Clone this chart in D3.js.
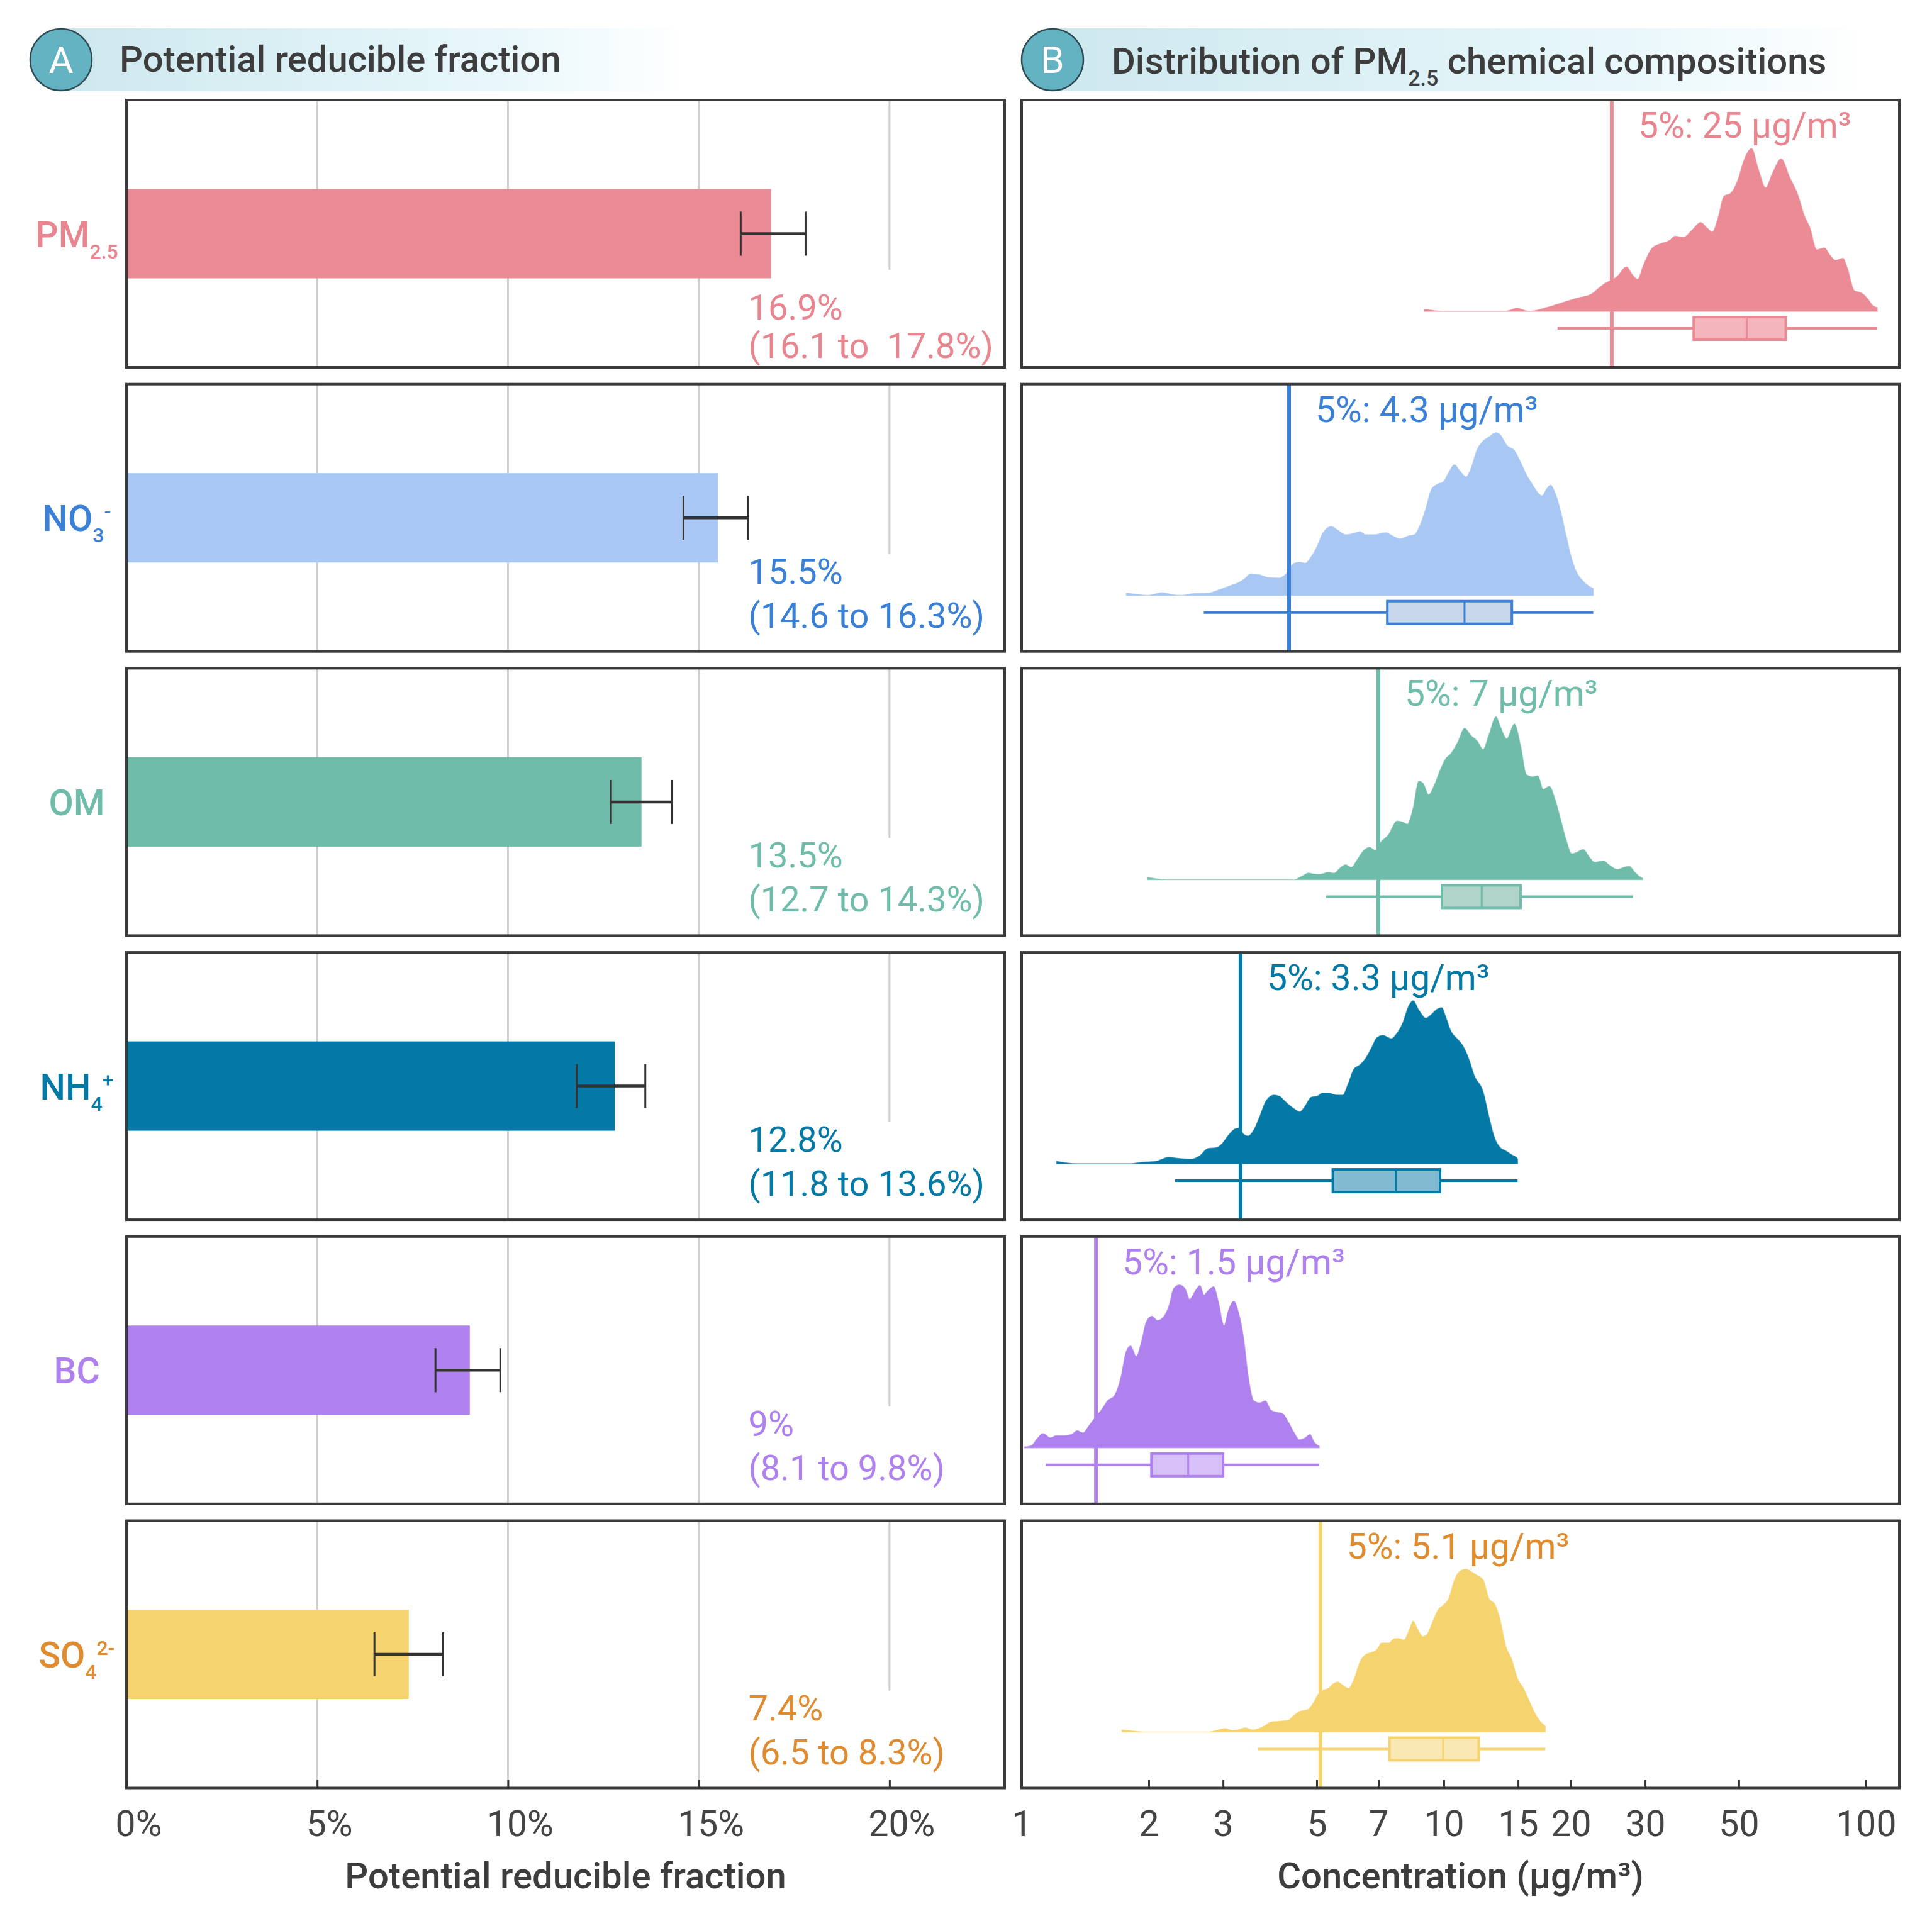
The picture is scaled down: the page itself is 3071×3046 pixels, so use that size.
<!DOCTYPE html>
<html>
<head>
<meta charset="utf-8">
<script src="https://cdn.jsdelivr.net/npm/d3@7"></script>
<style>
  body { margin: 0; background: #fff; }
  svg { display: block; }
  text { font-family: Roboto, "Noto Sans", sans-serif; }
</style>
</head>
<body>
<svg id="chart"></svg>
<script>
// ---- data ----
const speciesMain = ["PM", "NO", "OM", "NH", "BC", "SO"];
const speciesSub = ["2.5", "3", "", "4", "", "4"];
const speciesSup = ["", "-", "", "+", "", "2-"];

// panel A: potential reducible fraction (%)
const fraction = [16.9, 15.5, 13.5, 12.8, 9, 7.4];
const fractionLo = [16.1, 14.6, 12.7, 11.8, 8.1, 6.5];
const fractionHi = [17.8, 16.3, 14.3, 13.6, 9.8, 8.3];
const fractionText = ["16.9%", "15.5%", "13.5%", "12.8%", "9%", "7.4%"];
const ciText = ["(16.1 to  17.8%)", "(14.6 to 16.3%)", "(12.7 to 14.3%)", "(11.8 to 13.6%)", "(8.1 to 9.8%)", "(6.5 to 8.3%)"];

// panel B: 5th percentile and box stats (ug/m3)
const p5 = [25, 4.3, 7, 3.3, 1.5, 5.1];
const whiskLo = [18.6, 2.7, 5.26, 2.31, 1.14, 3.63];
const boxQ1 = [39.1, 7.35, 9.9, 5.46, 2.03, 7.44];
const boxMed = [52.2, 11.2, 12.3, 7.7, 2.48, 9.96];
const boxQ3 = [64.6, 14.5, 15.2, 9.8, 3.0, 12.1];
const whiskHi = [106.4, 22.6, 28.1, 14.96, 5.07, 17.4];

// densities: [concentration, scaled density]
const denPM = [[9.0,0.014],[10.0,0],[14.0,0],[14.9,0.019],[15.9,0],[17.5,0.023],[19.2,0.055],[20.7,0.081],[22.4,0.107],[23.2,0.139],[24.3,0.178],[25.0,0.191],[25.8,0.216],[27.1,0.274],[27.9,0.229],[28.8,0.197],[29.7,0.281],[31.2,0.39],[32.7,0.416],[34.3,0.436],[35.3,0.461],[37.0,0.455],[38.8,0.5],[40.6,0.545],[42.0,0.513],[43.3,0.487],[44.7,0.577],[46.1,0.706],[47.9,0.726],[49.8,0.809],[51.4,0.925],[53.6,1],[55.6,0.874],[57.9,0.758],[60.1,0.848],[63.0,0.936],[66.0,0.822],[69.2,0.706],[71.4,0.59],[73.7,0.513],[76.5,0.378],[79.7,0.39],[82.2,0.345],[84.8,0.313],[88.3,0.326],[90.3,0.268],[94.0,0.126],[97.6,0.113],[100.7,0.081],[103.8,0.036],[106.4,0.023]];
const denNO3 = [[1.77,0.014],[1.87,0.008],[1.99,0.001],[2.15,0.017],[2.29,0.004],[2.40,0.001],[2.56,0.012],[2.76,0.014],[2.94,0.036],[3.13,0.062],[3.28,0.082],[3.39,0.107],[3.49,0.133],[3.66,0.127],[3.84,0.11],[4.08,0.107],[4.21,0.127],[4.42,0.198],[4.56,0.204],[4.70,0.198],[4.85,0.237],[5.01,0.301],[5.16,0.379],[5.41,0.424],[5.58,0.405],[5.85,0.373],[6.08,0.379],[6.33,0.392],[6.53,0.373],[6.84,0.373],[7.29,0.386],[7.56,0.366],[7.88,0.347],[8.26,0.366],[8.52,0.373],[8.79,0.431],[9.07,0.534],[9.35,0.651],[9.65,0.683],[9.96,0.696],[10.27,0.754],[10.6,0.803],[10.9,0.767],[11.3,0.728],[11.6,0.78],[12.0,0.897],[12.4,0.948],[12.8,0.974],[13.3,1],[13.6,0.987],[14.1,0.922],[14.7,0.89],[15.2,0.819],[15.7,0.741],[16.2,0.683],[16.7,0.631],[17.1,0.612],[17.5,0.651],[17.9,0.677],[18.3,0.638],[18.9,0.521],[19.5,0.366],[20.1,0.224],[20.8,0.127],[21.4,0.088],[22.1,0.056],[22.6,0.043]];
const denOM = [[1.99,0.013],[2.19,0],[4.42,0],[4.63,0.023],[4.78,0.04],[4.93,0.034],[5.08,0.032],[5.33,0.045],[5.50,0.039],[5.67,0.069],[5.85,0.091],[6.04,0.075],[6.23,0.12],[6.43,0.172],[6.67,0.198],[6.88,0.179],[7.06,0.224],[7.40,0.276],[7.75,0.36],[8.00,0.353],[8.20,0.34],[8.46,0.437],[8.73,0.605],[8.93,0.592],[9.21,0.521],[9.50,0.58],[9.80,0.67],[10.1,0.741],[10.4,0.774],[10.8,0.845],[11.2,0.929],[11.6,0.884],[12.0,0.851],[12.4,0.799],[12.8,0.89],[13.3,1],[13.6,0.942],[14.1,0.864],[14.7,0.955],[15.2,0.825],[15.7,0.644],[16.2,0.631],[16.7,0.638],[17.2,0.554],[17.8,0.573],[18.3,0.502],[18.9,0.373],[19.5,0.243],[20.1,0.159],[20.6,0.166],[21.4,0.185],[22.1,0.14],[22.8,0.107],[23.9,0.114],[24.7,0.088],[25.8,0.062],[26.7,0.075],[27.5,0.082],[28.4,0.043],[29.3,0.013],[29.6,0.008]];
const denNH4 = [[1.21,0.015],[1.35,0],[1.81,0],[1.93,0.009],[2.08,0.015],[2.23,0.039],[2.36,0.032],[2.52,0.028],[2.64,0.048],[2.76,0.093],[2.90,0.099],[2.99,0.125],[3.08,0.17],[3.21,0.215],[3.28,0.219],[3.35,0.183],[3.44,0.17],[3.55,0.208],[3.66,0.286],[3.80,0.389],[3.96,0.421],[4.08,0.414],[4.21,0.382],[4.42,0.337],[4.56,0.318],[4.70,0.356],[4.85,0.408],[5.01,0.414],[5.16,0.434],[5.33,0.434],[5.58,0.421],[5.76,0.421],[5.94,0.492],[6.13,0.582],[6.33,0.607],[6.53,0.646],[6.74,0.71],[6.95,0.775],[7.17,0.788],[7.51,0.768],[7.75,0.801],[8.00,0.865],[8.26,0.968],[8.46,1],[8.73,0.942],[9.07,0.893],[9.35,0.916],[9.65,0.949],[9.90,0.958],[10.1,0.903],[10.4,0.813],[10.8,0.762],[11.1,0.723],[11.5,0.633],[11.8,0.543],[12.4,0.44],[12.8,0.286],[13.2,0.157],[13.6,0.099],[14.0,0.08],[14.5,0.054],[14.9,0.035],[14.96,0.028]];
const denBC = [[1.016,0.006],[1.054,0.013],[1.088,0.056],[1.123,0.088],[1.169,0.062],[1.206,0.075],[1.264,0.075],[1.313,0.082],[1.354,0.105],[1.397,0.092],[1.442,0.134],[1.492,0.185],[1.549,0.237],[1.598,0.289],[1.66,0.322],[1.718,0.432],[1.767,0.588],[1.811,0.626],[1.869,0.562],[1.928,0.665],[1.971,0.769],[2.033,0.808],[2.098,0.782],[2.165,0.802],[2.234,0.873],[2.291,0.977],[2.363,1],[2.438,0.977],[2.5,0.912],[2.579,0.964],[2.645,0.996],[2.703,0.938],[2.764,0.964],[2.85,0.99],[2.923,0.899],[3.016,0.75],[3.092,0.847],[3.18,0.901],[3.261,0.834],[3.354,0.678],[3.439,0.445],[3.548,0.289],[3.661,0.276],[3.777,0.289],[3.897,0.231],[4.021,0.218],[4.148,0.211],[4.28,0.16],[4.416,0.095],[4.556,0.049],[4.701,0.062],[4.82,0.082],[4.927,0.036],[5.07,0.01]];
const denSO4 = [[1.729,0.014],[1.84,0.006],[1.959,0],[2.764,0],[2.896,0.01],[3.034,0.021],[3.15,0.01],[3.251,0.013],[3.386,0.026],[3.526,0.013],[3.661,0.023],[3.777,0.04],[3.897,0.062],[4.084,0.066],[4.28,0.071],[4.416,0.101],[4.556,0.126],[4.775,0.139],[4.927,0.185],[5.036,0.23],[5.164,0.255],[5.328,0.268],[5.463,0.294],[5.602,0.307],[5.761,0.288],[5.944,0.268],[6.133,0.326],[6.328,0.43],[6.529,0.475],[6.736,0.488],[6.95,0.507],[7.126,0.546],[7.398,0.546],[7.633,0.572],[7.802,0.574],[8.05,0.565],[8.31,0.636],[8.46,0.681],[8.65,0.636],[8.93,0.585],[9.12,0.597],[9.41,0.675],[9.71,0.752],[10.0,0.781],[10.27,0.817],[10.6,0.933],[10.9,0.985],[11.3,1],[11.6,0.985],[12.0,0.961],[12.4,0.933],[12.8,0.817],[13.2,0.785],[13.6,0.688],[14.0,0.533],[14.5,0.443],[14.96,0.326],[15.4,0.275],[15.9,0.197],[16.4,0.12],[16.9,0.068],[17.4,0.036]];
const densities = [denPM, denNO3, denOM, denNH4, denBC, denSO4];

const fractionTicks = [0, 5, 10, 15, 20];
const concTicks = [1, 2, 3, 5, 7, 10, 15, 20, 30, 50, 100];

// colours
const fillColor = ["#ea8b96", "#a8c7f3", "#70bcaa", "#0479a6", "#ae81ee", "#f5d36f"];
const textColor = ["#e8858f", "#3a80d6", "#70bcaa", "#0479a6", "#ae81ee", "#df8b2f"];
const lineColor = ["#ea8b96", "#3a80d6", "#70bcaa", "#0479a6", "#ae81ee", "#f5d36f"];
const boxFill = ["#f4b5bd", "#c8d7ea", "#b1d4ca", "#82bad1", "#d7c0f7", "#fae8b4"];

// ---- layout ----
const width = 3071, height = 3046;
const leftX = [201, 1597], rightX = [1624, 3019];
const panelTop0 = 159, panelStep = 451.7, panelH = 425;
const ink = "#3d3d3d";

const svg = d3.select("#chart").attr("width", width).attr("height", height);

const xBar = d3.scaleLinear().domain([0, 23.02]).range(leftX);
const xConc = d3.scaleLog().domain([1, 120]).range(rightX);

const defs = svg.append("defs");
const grad = defs.append("linearGradient").attr("id", "band").attr("x1", "0%").attr("x2", "100%");
grad.append("stop").attr("offset", "0%").attr("stop-color", "#cde8ee");
grad.append("stop").attr("offset", "70%").attr("stop-color", "#e8f7fb");
grad.append("stop").attr("offset", "100%").attr("stop-color", "#ffffff");

// header bands
function header(x0, x1, letter, cx) {
    svg.append("rect").attr("x", x0).attr("y", 45).attr("width", x1 - x0).attr("height", 100)
        .attr("fill", "url(#band)");
    svg.append("circle").attr("cx", cx).attr("cy", 95).attr("r", 49)
        .attr("fill", "#63b3c3").attr("stroke", "#2f4a50").attr("stroke-width", 2.5);
    svg.append("text").attr("x", cx).attr("y", 116).attr("text-anchor", "middle")
        .attr("fill", "#fff").style("font-size", "60px").text(letter);
}
header(97, 1090, "A", 97);
header(1673, 2965, "B", 1673);

svg.append("text").attr("x", 190).attr("y", 114).attr("fill", ink)
    .style("font-size", "58px").style("font-weight", 500)
    .text("Potential reducible fraction");

const titleB = svg.append("text").attr("x", 1767).attr("y", 117).attr("fill", ink)
    .style("font-size", "58px").style("font-weight", 500);
titleB.append("tspan").text("Distribution of PM");
titleB.append("tspan").attr("dy", 19).style("font-size", "34px").text("2.5");
titleB.append("tspan").attr("dy", -19).text(" chemical compositions");

// ---- panels ----
const area = d3.area().curve(d3.curveMonotoneX);

fraction.forEach(function(v, i) {
    const top = panelTop0 + i * panelStep;
    const mid = top + panelH / 2;

    // left: gridlines
    const gA = svg.append("g");
    gA.selectAll("line.grid")
        .data(fractionTicks.filter(t => t > 0))
        .enter().append("line")
        .attr("x1", d => xBar(d)).attr("x2", d => xBar(d))
        .attr("y1", top).attr("y2", top + panelH)
        .attr("stroke", "#cfcfcf").attr("stroke-width", 3);

    // white backing of the value label (hides gridlines only)
    gA.append("rect")
        .attr("x", xBar(16.3) - 22).attr("y", top + 270)
        .attr("width", leftX[1] - xBar(16.3) + 22).attr("height", panelH - 270)
        .attr("fill", "#fff");

    // bar
    gA.append("rect")
        .attr("x", xBar(0)).attr("y", mid - 71)
        .attr("width", xBar(v) - xBar(0)).attr("height", 142)
        .attr("fill", fillColor[i]);

    // error bar
    gA.append("line")
        .attr("x1", xBar(fractionLo[i])).attr("x2", xBar(fractionHi[i]))
        .attr("y1", mid).attr("y2", mid)
        .attr("stroke", "#333").attr("stroke-width", 4.5);
    gA.selectAll("line.cap")
        .data([fractionLo[i], fractionHi[i]])
        .enter().append("line")
        .attr("x1", d => xBar(d)).attr("x2", d => xBar(d))
        .attr("y1", mid - 35).attr("y2", mid + 35)
        .attr("stroke", "#333").attr("stroke-width", 3);

    // value label
    const rows = i === 0 ? [349, 410] : [317, 387];
    const lab = gA.append("text").attr("fill", textColor[i])
        .style("font-size", "56px").style("white-space", "pre");
    lab.append("tspan").attr("x", xBar(16.3)).attr("y", top + rows[0]).text(fractionText[i]);
    lab.append("tspan").attr("x", xBar(16.3)).attr("y", top + rows[1]).text(ciText[i]);

    // species label
    const sp = svg.append("text").attr("x", 122).attr("y", mid + 21)
        .attr("text-anchor", "middle").attr("fill", textColor[i])
        .style("font-size", "57px").style("font-weight", 500);
    sp.append("tspan").text(speciesMain[i]);
    if (speciesSub[i]) sp.append("tspan").attr("dy", 18).style("font-size", "32px").text(speciesSub[i]);
    if (speciesSup[i]) sp.append("tspan").attr("dy", -38).style("font-size", "32px").text(speciesSup[i]);

    // right: density
    const gB = svg.append("g");
    const yD = d3.scaleLinear().domain([0, 1]).range([top + 336, top + 77]);
    area.x(d => xConc(d[0])).y0(top + 336).y1(d => yD(d[1]));
    gB.append("path")
        .datum(densities[i])
        .attr("d", area)
        .attr("fill", fillColor[i])
        .attr("stroke", fillColor[i]).attr("stroke-width", 1.5).attr("stroke-opacity", 0.6);

    // box plot
    const by = top + 363;
    gB.append("line")
        .attr("x1", xConc(whiskLo[i])).attr("x2", xConc(whiskHi[i]))
        .attr("y1", by).attr("y2", by)
        .attr("stroke", lineColor[i]).attr("stroke-width", 4);
    gB.append("rect")
        .attr("x", xConc(boxQ1[i])).attr("y", by - 18)
        .attr("width", xConc(boxQ3[i]) - xConc(boxQ1[i])).attr("height", 36)
        .attr("fill", boxFill[i]).attr("stroke", lineColor[i]).attr("stroke-width", 4);
    gB.append("line")
        .attr("x1", xConc(boxMed[i])).attr("x2", xConc(boxMed[i]))
        .attr("y1", by - 18).attr("y2", by + 18)
        .attr("stroke", lineColor[i]).attr("stroke-width", 3);

    // 5th percentile line and label
    gB.append("line")
        .attr("x1", xConc(p5[i])).attr("x2", xConc(p5[i]))
        .attr("y1", top).attr("y2", top + panelH)
        .attr("stroke", lineColor[i]).attr("stroke-width", 6);
    gB.append("text")
        .attr("x", xConc(p5[i]) + 42).attr("y", top + 60)
        .attr("fill", textColor[i]).style("font-size", "57px")
        .text(`5%: ${p5[i]} µg/m³`);

    // frames
    svg.append("rect").attr("x", leftX[0]).attr("y", top)
        .attr("width", leftX[1] - leftX[0]).attr("height", panelH)
        .attr("fill", "none").attr("stroke", "#3a3a3a").attr("stroke-width", 4);
    svg.append("rect").attr("x", rightX[0]).attr("y", top)
        .attr("width", rightX[1] - rightX[0]).attr("height", panelH)
        .attr("fill", "none").attr("stroke", "#3a3a3a").attr("stroke-width", 4);
});

// ---- bottom axes ----
const axisY = panelTop0 + 5 * panelStep + panelH;

const axA = svg.append("g")
    .attr("transform", `translate(0, ${axisY})`)
    .call(d3.axisBottom(xBar).tickValues(fractionTicks).tickFormat(d => d + "%")
        .tickSizeInner(-13).tickSizeOuter(0).tickPadding(36));
const axB = svg.append("g")
    .attr("transform", `translate(0, ${axisY})`)
    .call(d3.axisBottom(xConc).tickValues(concTicks).tickFormat(d3.format("d"))
        .tickSizeInner(-13).tickSizeOuter(0).tickPadding(36));

[axA, axB].forEach(function(ax) {
    ax.select(".domain").remove();
    ax.selectAll(".tick line").attr("stroke", "#333").attr("stroke-width", 3);
    ax.selectAll(".tick text").attr("fill", "#444").style("font-size", "57px")
        .style("font-family", "Roboto, 'Noto Sans', sans-serif");
});
axA.selectAll(".tick text").attr("dx", 19);

svg.append("text").attr("x", (leftX[0] + leftX[1]) / 2).attr("y", 3002)
    .attr("text-anchor", "middle").attr("fill", ink)
    .style("font-size", "58px").style("font-weight", 500)
    .text("Potential reducible fraction");
svg.append("text").attr("x", (rightX[0] + rightX[1]) / 2).attr("y", 3002)
    .attr("text-anchor", "middle").attr("fill", ink)
    .style("font-size", "58px").style("font-weight", 500)
    .text("Concentration (µg/m³)");
</script>
</body>
</html>
